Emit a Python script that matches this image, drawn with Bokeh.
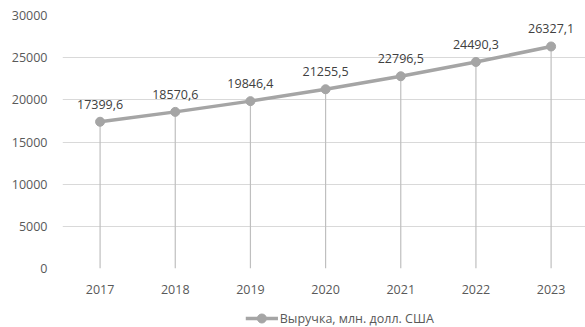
from bokeh.plotting import figure
from bokeh.layouts import column
from bokeh.models import (ColumnDataSource, Range1d, FixedTicker, SingleIntervalTicker)
from bokeh.core.properties import value
from bokeh.embed import file_html
from bokeh.resources import INLINE

years = [2017, 2018, 2019, 2020, 2021, 2022, 2023]
revenue = [17399.6, 18570.6, 19846.4, 21255.5, 22796.5, 24490.3, 26327.1]
labels = [f"{v:.1f}".replace(".", ",") for v in revenue]
series_name = "Выручка, млн. долл. США"

FONT = "Open Sans"
TXT = "#595959"
LINE = "#a5a5a5"

src = ColumnDataSource(dict(x=years, y=revenue, lab=labels, zero=[0] * len(years)))

p = figure(width=585, height=300, output_backend="svg", toolbar_location=None,
           x_range=Range1d(2016.5, 2016.5 + 523 / 75.17), y_range=Range1d(0, 30000),
           min_border_left=62, min_border_right=0, min_border_top=15, min_border_bottom=32)
p.outline_line_color = None
p.background_fill_color = "white"

# axes
p.xaxis.ticker = FixedTicker(ticks=years)
p.yaxis.ticker = SingleIntervalTicker(interval=5000)
for ax in (p.xaxis[0], p.yaxis[0]):
    ax.axis_line_color = None
    ax.major_tick_line_color = None
    ax.minor_tick_line_color = None
    ax.major_label_text_font = FONT
    ax.major_label_text_font_size = "12.5px"
    ax.major_label_text_color = TXT
p.xaxis.major_label_standoff = 10
p.yaxis.major_label_standoff = 9

p.xgrid.grid_line_color = None
p.ygrid.grid_line_color = "#d9d9d9"
p.ygrid.grid_line_width = 1

# drop lines
p.segment(x0="x", y0="zero", x1="x", y1="y", source=src, line_color="#bfbfbf", line_width=1.2)

# series
p.line("x", "y", source=src, line_color=LINE, line_width=3.5)
p.scatter("x", "y", source=src, size=9, fill_color=LINE, line_color=LINE)

# data labels
p.text("x", "y", text="lab", source=src, text_align="center", text_baseline="bottom",
       y_offset=-13, text_font=value(FONT), text_font_size="12.5px", text_color="#404040")

# legend strip (separate small figure below the chart)
lg = figure(width=585, height=27, output_backend="svg", toolbar_location=None,
            x_range=Range1d(0, 585), y_range=Range1d(27, 0),
            min_border=0, x_axis_type=None, y_axis_type=None)
lg.outline_line_color = None
lg.grid.visible = False
lsrc = ColumnDataSource(dict(x0=[205], x1=[241], xm=[223], y=[18], tx=[243], lab=[series_name]))
lg.segment(x0="x0", y0="y", x1="x1", y1="y", source=lsrc, line_color=LINE, line_width=3.5)
lg.scatter("xm", "y", source=lsrc, size=9, fill_color=LINE, line_color=LINE)
lg.text("tx", "y", text="lab", source=lsrc, text_align="left", text_baseline="middle",
        text_font=value(FONT), text_font_size="12.5px", text_color=TXT)

layout = column(p, lg, spacing=0)
open("out.html", "w").write(file_html(layout, INLINE))
